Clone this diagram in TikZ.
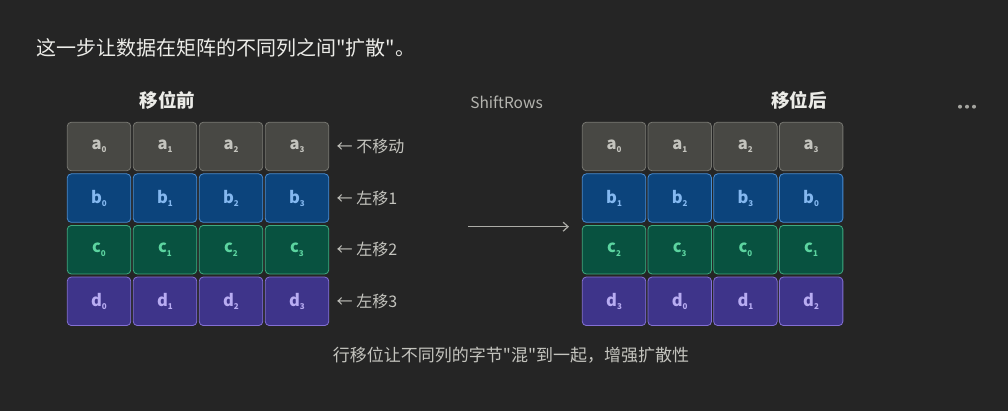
\documentclass[tikz,border=0pt]{standalone}
\usepackage{fontspec}
\setmainfont{Noto Sans CJK SC}
\newfontfamily\cjk{Noto Sans CJK SC}
\usetikzlibrary{arrows.meta}

\definecolor{bgdark}{RGB}{37,37,37}
\definecolor{txtmain}{RGB}{236,236,232}
\definecolor{txtsoft}{RGB}{196,196,190}
\definecolor{grayfill}{RGB}{72,72,68}
\definecolor{grayline}{RGB}{118,118,112}
\definecolor{graytext}{RGB}{196,196,190}
\definecolor{bluefill}{RGB}{12,68,124}
\definecolor{blueline}{RGB}{72,140,210}
\definecolor{bluetext}{RGB}{132,184,240}
\definecolor{greenfill}{RGB}{8,82,64}
\definecolor{greenline}{RGB}{62,170,128}
\definecolor{greentext}{RGB}{92,212,160}
\definecolor{purplefill}{RGB}{62,52,138}
\definecolor{purpleline}{RGB}{132,112,212}
\definecolor{purpletext}{RGB}{184,172,242}

\newcommand{\cellsub}[1]{\raisebox{-0.35ex}{\fontsize{8}{8}\selectfont #1}}

\begin{document}
\begin{tikzpicture}[x=1pt,y=-1pt,
  cell/.style={draw,rounded corners=4pt,line width=0.8pt,
    minimum width=63.5pt,minimum height=48.5pt,inner sep=0pt,
    font=\cjk\fontsize{16.5}{16.5}\selectfont\bfseries},
  cella/.style={fill=grayfill,draw=grayline,text=graytext},
  cellb/.style={fill=bluefill,draw=blueline,text=bluetext},
  cellc/.style={fill=greenfill,draw=greenline,text=greentext},
  celld/.style={fill=purplefill,draw=purpleline,text=purpletext},
  rowlabel/.style={anchor=west,inner sep=0pt,text=txtsoft,
    font=\cjk\fontsize{16}{16}\selectfont},
  title/.style={inner sep=0pt,text=txtmain,font=\cjk\fontsize{18.5}{18.5}\selectfont\bfseries},
  arr/.style={-{Straight Barb[length=5pt,width=9pt]},line width=1.2pt,draw=txtsoft!85!bgdark}
]
\def\rowh{51.6}

% background and page size
\fill[bgdark] (0,0) rectangle (1008,411);
\useasboundingbox (0,0) rectangle (1008,411);

\node[anchor=west,inner sep=0pt,text=txtmain,font=\cjk\fontsize{20}{20}\selectfont]
  (intro) at (36,48) {这一步让数据在矩阵的不同列之间"扩散"。};

\node[title] (before) at (167.5,100) {移位前};
\node[title] (after) at (799,100) {移位后};
\node[inner sep=0pt,text=txtsoft!90!bgdark,font=\cjk\fontsize{15.5}{15.5}\selectfont]
  (shift) at (506.5,102.5) {ShiftRows};

\foreach \d in {0,1,2}{
  \fill[txtsoft!80!bgdark] (960+7*\d,106.7) circle (2);
}

% matrix before shifting
\foreach \r/\l in {0/a,1/b,2/c,3/d}{
  \foreach \c in {0,...,3}{
    \node[cell,cell\l] (L\l\c) at ({99+66*\c},{146.5+\rowh*\r}) {\l\cellsub{\c}};
  }
}

% matrix after shifting: row r moves left by r
\foreach \r/\l in {0/a,1/b,2/c,3/d}{
  \foreach \c in {0,...,3}{
    \pgfmathtruncatemacro{\k}{mod(\c+\r,4)}
    \node[cell,cell\l] (R\l\c) at ({614+65.7*\c},{146.5+\rowh*\r}) {\l\cellsub{\k}};
  }
}

\node[rowlabel] (moveA) at (336.5,146.5) {← 不移动};
\node[rowlabel] (moveB) at (336.5,198.1) {← 左移1};
\node[rowlabel] (moveC) at (336.5,249.7) {← 左移2};
\node[rowlabel] (moveD) at (336.5,301.3) {← 左移3};

\coordinate (arrS) at (468,226.7);
\coordinate (arrE) at (569,226.7);
\draw[arr] (arrS) -- (arrE);

\node[inner sep=0pt,text=txtsoft,font=\cjk\fontsize{17}{17}\selectfont]
  (note) at (511,355) {行移位让不同列的字节"混"到一起，增强扩散性};
\end{tikzpicture}
\end{document}
